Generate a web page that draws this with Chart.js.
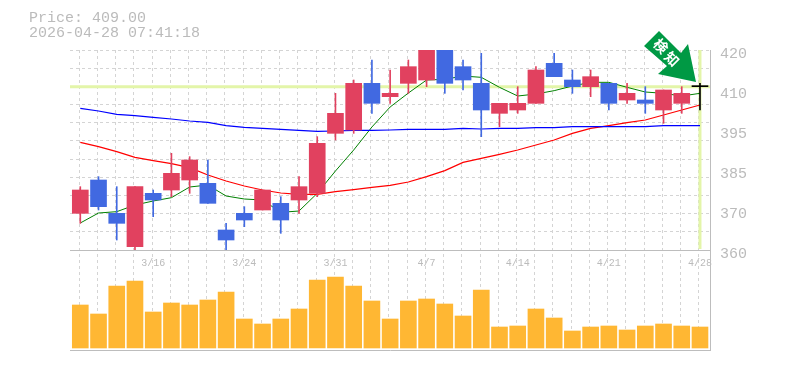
<!DOCTYPE html>
<html>
<head>
<meta charset="utf-8">
<script src="https://cdn.jsdelivr.net/npm/chart.js@4"></script>
<style>
  html, body { margin: 0; background: #fff; }
  #wrap { position: relative; width: 785px; height: 370px; overflow: hidden; }
  #head { position: absolute; left: 29px; top: 11px; font: 15px/15px "Liberation Mono", monospace; color: #bbb; white-space: pre; }
</style>
</head>
<body>
<div id="wrap">
  <div id="head">Price: 409.00
2026-04-28 07:41:18</div>
  <canvas id="chart" width="785" height="370"></canvas>
</div>
<script>
// ==== data ====
const opens  = [371,381,371,361,377,378,381,380,366,371,372,374,375,377,395,396,410,406,410,411,421,415,410,401,402,404,416,411,409,410,405,405,402,404,409];
const closes = [378,373,368,379,375,383,387,374,363,369,378,369,379,392,401,410,404,407,415,421,410,411,402,404,404,414,412,409,412,404,407,404,408,407,409];
const highs  = [379,382,379,379,378,389,388,387,368,373,378,376,382,394,407,411,417,414,417,421,421,417,419,404,409,415,419,414,414,410,410,409,408,409,410];
const lows   = [368,372,363,360,370,376,377,374,360,367,372,365,371,376,393,395,401,404,407,409,407,408,394,397,401,404,412,407,406,402,404,401,398,401,402];
const volumes = [430,340,620,670,360,450,430,480,560,290,240,290,390,680,710,620,470,290,470,490,440,320,580,210,220,390,300,170,210,220,180,220,240,220,210];

const maShort = [368.1,371.1,371.5,373.5,374.7,375.7,378.9,379.5,376.2,375.3,375,371.3,371.7,377,383.7,390,396.9,402.9,407.1,411,411.2,412.2,411.8,408.8,406.2,406.8,407.8,409.2,410.3,410.3,408.8,407.4,407,406.2,407];
const maMid   = [392.3,391,389.5,387.8,386.8,385.9,384.7,382.5,380.7,379.2,378,377.1,376.7,376.7,377.5,378.1,378.8,379.4,380.4,382,383.8,386.3,387.5,388.7,390,391.5,393,395,396.5,397.3,398.2,399,400.5,402,403.5];
const maLong  = [402.5,401.7,400.7,400.3,399.8,399.3,398.7,398.3,397.3,396.8,396.5,396.2,395.9,395.6,395.7,395.9,395.9,396,396.2,396.2,396.2,396.5,396.3,396.5,396.5,396.7,396.7,397,397,397,397,397,397.3,397.3,397.3];

const dateIndexes = [4,9,14,19,24,29,34];
const dateLabels  = ["3/16","3/24","3/31","4/7","4/14","4/21","4/28"];
const priceLevels = [420,408,396,384,372,360];
const priceLabels = ["420","410","395","385","370","360"];
const lastPrice = 409;

// ==== styles ====
const RED = "#e1415f", BLUE = "#4169e1", AMBER = "#ffb733", PALE = "#e3f5a9";
const GRID = "#d4d4d4", AXIS = "#bdbdbd", TEXT = "#bbb";
const MONO = "'Liberation Mono', monospace";

const xMin = -0.565, xMax = 34.55;
const gridCount = 11;   // horizontal grid has its own spacing, not the label spacing
const gridLevels = Array.from({ length: gridCount + 1 }, (_, k) => 420 - k * 60 / gridCount);

const candleColor = (i) => opens[i] === closes[i] ? "#000" : (closes[i] > opens[i] ? RED : BLUE);
const pts = (arr) => arr.map((y, x) => ({ x, y }));
const lineSet = (data, color, width, order) => ({
  type: "line", data, borderColor: color, borderWidth: width, pointRadius: 0, tension: 0,
  xAxisID: "x", yAxisID: "y", order
});

// green stamp at the top right
const stamp = {
  id: "stamp",
  afterDraw(chart) {
    const c = chart.ctx;
    c.save();
    c.fillStyle = "#009944";
    c.beginPath();
    c.moveTo(659, 31);
    c.lineTo(681, 53);
    c.lineTo(688, 44);
    c.lineTo(696, 82);
    c.lineTo(658, 74);
    c.lineTo(667, 66);
    c.lineTo(644, 46);
    c.closePath();
    c.fill();
    c.fillStyle = "#fff";
    c.font = "bold 14px 'Noto Sans CJK JP'";
    c.textAlign = "center";
    c.textBaseline = "middle";
    [["検", 661, 46], ["知", 672, 59]].forEach(([t, x, y]) => {
      c.save();
      c.translate(x, y);
      c.rotate(Math.PI / 4);
      c.fillText(t, 0, 0);
      c.restore();
    });
    c.restore();
  }
};

new Chart(document.getElementById("chart"), {
  data: {
    datasets: [
      lineSet([{ x: xMin, y: lastPrice }, { x: xMax, y: lastPrice }], PALE, 3, 9),
      lineSet([{ x: 34, y: 420 }, { x: 34, y: 360.3 }], PALE, 3, 9),
      lineSet(pts(maLong), "#0000ff", 1.2, 5),
      lineSet(pts(maMid), "#ff0000", 1.2, 5),
      lineSet(pts(maShort), "#008000", 1, 5),
      {
        type: "bar", grouped: false, barThickness: 1,
        data: highs.map((h, x) => ({ x, y: [lows[x], h] })),
        backgroundColor: (c) => candleColor(c.dataIndex),
        xAxisID: "x", yAxisID: "y", order: 2
      },
      {
        type: "bar", grouped: false, barThickness: 16, minBarLength: 1,
        data: opens.map((o, x) => ({ x, y: [o, closes[x]] })),
        backgroundColor: (c) => candleColor(c.dataIndex),
        xAxisID: "x", yAxisID: "y", order: 1
      },
      {
        type: "bar", grouped: false, barThickness: 16,
        data: pts(volumes),
        backgroundColor: AMBER,
        xAxisID: "x", yAxisID: "yVol", order: 3
      }
    ]
  },
  options: {
    responsive: false,
    animation: false,
    events: [],
    layout: { padding: { left: 70, top: 50, bottom: 20, right: 0 } },
    plugins: { legend: { display: false }, tooltip: { enabled: false } },
    scales: {
      x: {
        type: "linear", position: "bottom", min: xMin, max: xMax, offset: false,
        afterBuildTicks: (ax) => { ax.ticks = volumes.map((_, i) => ({ value: i + xMin })); },
        ticks: { display: false },
        grid: { color: GRID, drawTicks: false },
        border: { color: AXIS, dash: [3, 3] }
      },
      xDates: {
        type: "linear", position: { yVol: 980 }, min: xMin, max: xMax, offset: false,
        afterBuildTicks: (ax) => { ax.ticks = dateIndexes.map((value) => ({ value })); },
        ticks: {
          autoSkip: false, maxRotation: 0, padding: 7, color: TEXT,
          font: { family: MONO, size: 10 },
          callback: (v) => dateLabels[dateIndexes.indexOf(v)]
        },
        grid: { display: false, drawTicks: false },
        border: { color: AXIS }
      },
      y: {
        type: "linear", position: "right", stack: "panels", stackWeight: 2, weight: 1,
        min: 360, max: 420,
        afterFit: (ax) => { ax.width = 75; },
        afterBuildTicks: (ax) => {
          ax.ticks = [...gridLevels, ...priceLevels.slice(1, -1)].map((value) => ({ value }));
        },
        ticks: {
          autoSkip: false, padding: 10, labelOffset: 4, color: TEXT,
          font: { family: MONO, size: 15 },
          callback: (v) => { const i = priceLevels.indexOf(v); return i < 0 ? "" : priceLabels[i]; }
        },
        grid: {
          drawTicks: false,
          color: (c) => gridLevels.includes(c.tick.value) ? GRID : "rgba(0,0,0,0)"
        },
        border: { color: AXIS, dash: [3, 3] }
      },
      yVol: {
        type: "linear", position: "right", stack: "panels", stackWeight: 1, weight: 2,
        min: -20, max: 980,
        afterFit: (ax) => { ax.width = 75; },
        ticks: { display: false },
        grid: { display: false, drawTicks: false },
        border: { color: AXIS }
      }
    }
  },
  plugins: [stamp]
});
</script>
</body>
</html>
